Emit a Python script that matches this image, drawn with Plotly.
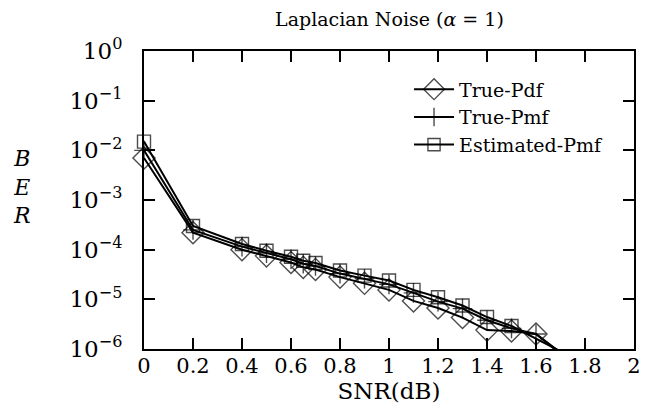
import plotly.graph_objects as go

# ---- data ----
snr_pdf = [0, 0.2, 0.4, 0.5, 0.6, 0.65, 0.7, 0.8, 0.9, 1.0, 1.1, 1.2, 1.3, 1.4, 1.5, 1.6, 1.7]
ber_true_pdf = [7.0e-3, 2.2e-4, 1.0e-4, 7.5e-5, 5.5e-5, 4.4e-5, 4.0e-5, 2.8e-5, 2.1e-5,
                1.55e-5, 9.3e-6, 6.7e-6, 4.3e-6, 2.4e-6, 2.3e-6, 2.0e-6, 8.0e-7]

snr_pmf = [0, 0.2, 0.4, 0.5, 0.6, 0.65, 0.7, 0.8, 0.9, 1.0, 1.1, 1.2, 1.3, 1.4, 1.5, 1.6, 1.7]
ber_true_pmf = [1.0e-2, 2.5e-4, 1.15e-4, 8.5e-5, 6.4e-5, 5.2e-5, 4.7e-5, 3.3e-5, 2.6e-5,
                2.0e-5, 1.35e-5, 9.0e-6, 6.5e-6, 3.8e-6, 2.6e-6, 2.0e-6, 8.5e-7]

snr_est = [0, 0.2, 0.4, 0.5, 0.6, 0.65, 0.7, 0.8, 0.9, 1.0, 1.1, 1.2, 1.3, 1.4, 1.5, 1.7]
ber_est_pmf = [1.5e-2, 3.0e-4, 1.3e-4, 9.5e-5, 7.2e-5, 6.0e-5, 5.4e-5, 3.8e-5, 3.0e-5,
               2.4e-5, 1.55e-5, 1.1e-5, 7.5e-6, 4.4e-6, 2.9e-6, 9.0e-7]

series_names = ["True-Pdf", "True-Pmf", "Estimated-Pmf"]
y_tickvals = [1e-6, 1e-5, 1e-4, 1e-3, 1e-2, 1e-1, 1]
y_ticktext = ["10<sup>−6</sup>", "10<sup>−5</sup>", "10<sup>−4</sup>", "10<sup>−3</sup>",
              "10<sup>−2</sup>", "10<sup>−1</sup>", "10<sup>0</sup>"]

FONT = "'DejaVu Serif', 'Liberation Serif', serif"
YMIN = 1e-6


def sizes(vals, s):
    return [s if v >= YMIN else 0 for v in vals]


fig = go.Figure()
fig.add_trace(go.Scatter(
    x=snr_pdf, y=ber_true_pdf, name=series_names[0], mode="lines+markers",
    line=dict(color="black", width=2),
    marker=dict(symbol="diamond-open", size=sizes(ber_true_pdf, 17), color="black",
                line=dict(width=1.4, color="black")),
    cliponaxis=False))
fig.add_trace(go.Scatter(
    x=snr_pmf, y=ber_true_pmf, name=series_names[1], mode="lines+markers",
    line=dict(color="black", width=2),
    marker=dict(symbol="cross-thin", size=sizes(ber_true_pmf, 14), color="black",
                line=dict(width=1.4, color="black")),
    cliponaxis=False))
fig.add_trace(go.Scatter(
    x=snr_est, y=ber_est_pmf, name=series_names[2], mode="lines+markers",
    line=dict(color="black", width=2),
    marker=dict(symbol="square-open", size=sizes(ber_est_pmf, 13), color="black",
                line=dict(width=1.4, color="black")),
    cliponaxis=False))

fig.update_layout(
    width=652, height=411,
    margin=dict(l=136, r=26, t=43, b=70),
    paper_bgcolor="white", plot_bgcolor="white",
    font=dict(family=FONT, size=20, color="black"),
    title=dict(text="Laplacian Noise (<i>α</i> = 1)", x=0.585, xanchor="center",
               y=0.972, yanchor="middle", font=dict(family=FONT, size=19)),
    showlegend=True,
    legend=dict(x=0.947, y=0.935, xanchor="right", yanchor="top",
                bgcolor="rgba(0,0,0,0)", font=dict(family=FONT, size=19),
                tracegroupgap=0, itemwidth=40),
    annotations=[dict(text="<i>B</i><br><i>E</i><br><i>R</i>", xref="paper", yref="paper",
                      x=-0.25, y=0.545, xanchor="center", yanchor="middle", showarrow=False,
                      font=dict(family=FONT, size=22), align="center")],
)

fig.update_xaxes(
    range=[0, 2], dtick=0.2, tick0=0,
    ticks="inside", ticklen=11, tickwidth=2, tickcolor="black",
    showline=True, linewidth=2, linecolor="black", mirror="ticks",
    showgrid=False, zeroline=False, ticklabelstandoff=-3,
    title=dict(text="SNR(dB)", standoff=0, font=dict(family=FONT, size=23)),
    tickfont=dict(family=FONT, size=21))

fig.update_yaxes(
    type="log", range=[-6, 0], tickvals=y_tickvals, ticktext=y_ticktext,
    ticks="inside", ticklen=11, tickwidth=2, tickcolor="black",
    showline=True, linewidth=2, linecolor="black", mirror="ticks",
    showgrid=False, zeroline=False, ticklabelstandoff=15,
    tickfont=dict(family=FONT, size=23))

fig.write_html("out.html")
